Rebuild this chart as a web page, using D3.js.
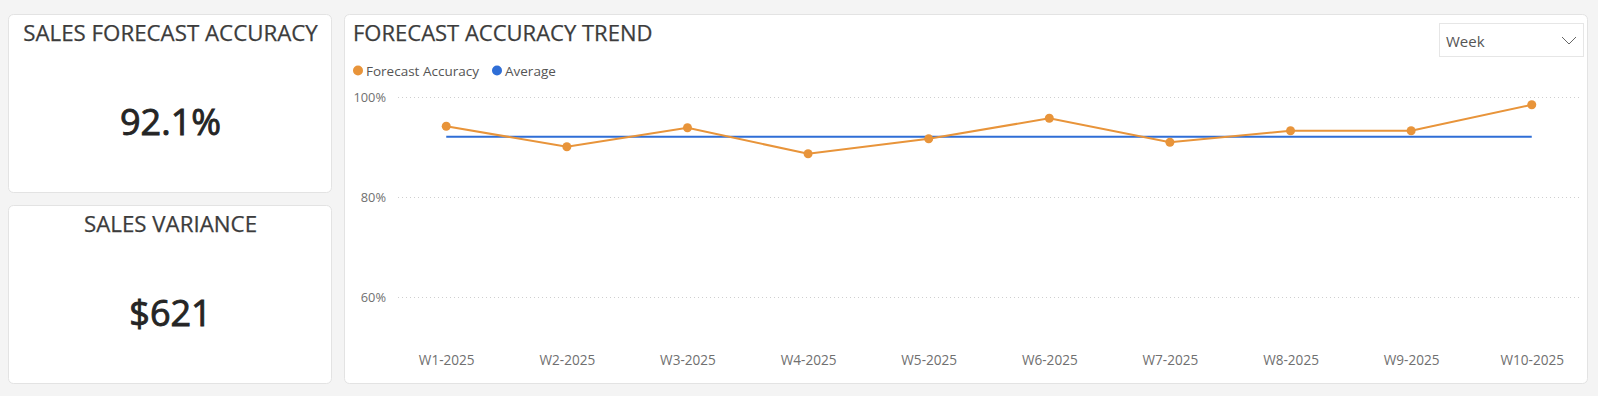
<!DOCTYPE html>
<html>
<head>
<meta charset="utf-8">
<script src="https://cdn.jsdelivr.net/npm/d3@7"></script>
<style>
  body { margin: 0; background: #f4f4f4; font-family: "Open Sans", "Noto Sans", sans-serif; }
  svg text { font-family: "Open Sans", "Noto Sans", sans-serif; }
</style>
</head>
<body>
<div id="chart"></div>
<script>
// data
var weeks = ["W1-2025","W2-2025","W3-2025","W4-2025","W5-2025","W6-2025","W7-2025","W8-2025","W9-2025","W10-2025"];
var accuracy = [94.2, 90.1, 93.9, 88.7, 91.7, 95.8, 91.0, 93.3, 93.3, 98.5];
var averageAccuracy = 92.1;
var yTicks = [60, 80, 100];
var kpiTitles = ["SALES FORECAST ACCURACY", "SALES VARIANCE"];
var kpiValues = ["92.1%", "$621"];
var seriesNames = ["Forecast Accuracy", "Average"];

var W = 1598, H = 396;
var orange = "#E8943A", blue = "#2F6ED6";

var svg = d3.select("#chart").append("svg")
    .attr("width", W)
    .attr("height", H);

// cards
var cards = [
    {x: 8, y: 14, w: 323, h: 178},
    {x: 8, y: 205, w: 323, h: 178},
    {x: 344, y: 14, w: 1243, h: 369}
];
svg.selectAll("rect.card").data(cards).enter().append("rect")
    .attr("class", "card")
    .attr("x", function(d){ return d.x + 0.5; })
    .attr("y", function(d){ return d.y + 0.5; })
    .attr("width", function(d){ return d.w; })
    .attr("height", function(d){ return d.h; })
    .attr("rx", 5)
    .attr("fill", "#fff")
    .attr("stroke", "#e3e3e3");

// KPI cards
kpiTitles.forEach(function(t, i){
    var c = cards[i];
    svg.append("text")
        .text(t)
        .attr("x", c.x + c.w / 2 + 1)
        .attr("y", c.y + 27)
        .attr("text-anchor", "middle")
        .attr("font-size", 22.3)
        .attr("fill", "#3c3c3c")
        .attr("stroke", "#3c3c3c")
        .attr("stroke-width", 0.25);
    svg.append("text")
        .text(kpiValues[i])
        .attr("x", c.x + c.w / 2 + 1)
        .attr("y", c.y + 121)
        .attr("text-anchor", "middle")
        .attr("font-size", 36)
        .attr("fill", "#252525")
        .attr("stroke", "#252525")
        .attr("stroke-width", 0.9);
});

// trend card
svg.append("text")
    .text("FORECAST ACCURACY TREND")
    .attr("x", 353)
    .attr("y", 41)
    .attr("font-size", 22)
    .attr("fill", "#3c3c3c")
    .attr("stroke", "#3c3c3c")
    .attr("stroke-width", 0.25);

// legend
var legendX = [358, 497];
seriesNames.forEach(function(n, i){
    svg.append("circle")
        .attr("cx", legendX[i])
        .attr("cy", 70.5)
        .attr("r", 5)
        .attr("fill", i == 0 ? orange : blue);
    svg.append("text")
        .text(n)
        .attr("x", legendX[i] + 8)
        .attr("y", 75.5)
        .attr("font-size", 13.5)
        .attr("fill", "#555");
});

// dropdown
svg.append("rect")
    .attr("x", 1439.5).attr("y", 23.5)
    .attr("width", 144).attr("height", 33)
    .attr("fill", "#fff")
    .attr("stroke", "#e6e6e6");
svg.append("text")
    .text("Week")
    .attr("x", 1446)
    .attr("y", 46.5)
    .attr("font-size", 15)
    .attr("fill", "#555");
svg.append("path")
    .attr("d", "M1562,37 L1569,44 L1576,37")
    .attr("fill", "none")
    .attr("stroke", "#666")
    .attr("stroke-width", 1);

// scales
var x = d3.scalePoint().domain(weeks).range([398, 1580]).padding(0.4);
var y = d3.scaleLinear().domain([50, 100]).range([347.3, 97.3]);

// gridlines
svg.append("g").selectAll("line").data(yTicks).enter().append("line")
    .attr("x1", 398).attr("x2", 1580)
    .attr("y1", function(d){ return Math.round(y(d)) + 0.5; })
    .attr("y2", function(d){ return Math.round(y(d)) + 0.5; })
    .attr("stroke", "#cfcfcf")
    .attr("stroke-dasharray", "1,3");

// y axis labels
var yAxis = d3.axisLeft(y).tickValues(yTicks)
    .tickFormat(function(d){ return d + "%"; })
    .tickSize(0).tickPadding(0);
var gy = svg.append("g")
    .attr("transform", "translate(386,0)")
    .call(yAxis);
gy.select(".domain").remove();
gy.selectAll("text").attr("font-size", 12.8).attr("fill", "#707070")
    .attr("font-family", "Open Sans, sans-serif");

// x axis labels
var xAxis = d3.axisBottom(x).tickSize(0).tickPadding(0);
var gx = svg.append("g")
    .attr("transform", "translate(0,355)")
    .call(xAxis);
gx.select(".domain").remove();
gx.selectAll("text").attr("font-size", 13.6).attr("fill", "#707070")
    .attr("font-family", "Open Sans, sans-serif");

// average line
svg.append("line")
    .attr("x1", x(weeks[0]))
    .attr("x2", x(weeks[weeks.length - 1]))
    .attr("y1", y(averageAccuracy))
    .attr("y2", y(averageAccuracy))
    .attr("stroke", blue)
    .attr("stroke-width", 2);

// accuracy line
var valueline = d3.line()
    .x(function(d, i){ return x(weeks[i]); })
    .y(function(d){ return y(d); });

svg.append("path")
    .attr("d", valueline(accuracy))
    .attr("fill", "none")
    .attr("stroke", orange)
    .attr("stroke-width", 2);

svg.selectAll("circle.pt").data(accuracy).enter().append("circle")
    .attr("class", "pt")
    .attr("cx", function(d, i){ return x(weeks[i]); })
    .attr("cy", function(d){ return y(d); })
    .attr("r", 4.5)
    .attr("fill", orange);
</script>
</body>
</html>
